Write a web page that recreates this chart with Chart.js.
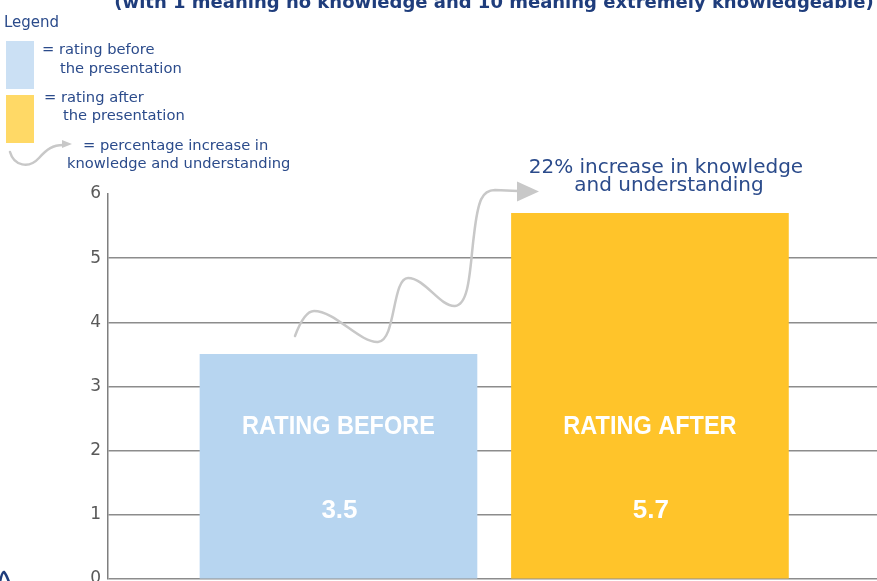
<!DOCTYPE html>
<html>
<head>
<meta charset="utf-8">
<script src="https://cdn.jsdelivr.net/npm/chart.js@4.4.1/dist/chart.umd.min.js"></script>
<style>
    html, body { margin: 0; padding: 0; background: #fff; }
    #wrap { position: relative; width: 877px; height: 581px; overflow: hidden; }
    #chart { position: absolute; left: 0; top: 0; }
    .txt {
        position: absolute;
        white-space: nowrap;
        font-family: "DejaVu Sans", sans-serif;
        font-size: 14.7px;
        line-height: 17px;
        color: #2b4b8b;
    }
    .swatch { position: absolute; left: 6px; width: 28px; height: 48px; }
    #title {
        position: absolute;
        left: 494px;
        top: -8px;
        transform: translateX(-50%);
        white-space: nowrap;
        font-family: "DejaVu Sans", sans-serif;
        font-weight: bold;
        font-size: 18px;
        line-height: 20px;
        color: #1f3d7c;
    }
</style>
</head>
<body>
<div id="wrap">
    <canvas id="chart" width="877" height="581"></canvas>

    <div id="title">(with 1 meaning no knowledge and 10 meaning extremely knowledgeable)</div>

    <!-- легенда -->
    <div class="txt" style="left:4px; top:14px; font-size:15px;">Legend</div>
    <div class="swatch" style="top:41px; background:#cbe0f4;"></div>
    <div class="txt" style="left:42px; top:40px;">= rating before</div>
    <div class="txt" style="left:60px; top:59px;">the presentation</div>
    <div class="swatch" style="top:95px; background:#ffd966;"></div>
    <div class="txt" style="left:44px; top:88px;">= rating after</div>
    <div class="txt" style="left:63px; top:106px;">the presentation</div>
    <div class="txt" style="left:83px; top:136px;">= percentage increase in</div>
    <div class="txt" style="left:67px; top:154px;">knowledge and understanding</div>
</div>

<script>
"use strict";

// Дані графіка
const categories = ['Rating before', 'Rating after'];
const ratings = [3.5, 5.7];
const barColors = ['#b7d5f0', '#ffc42a'];
const yTicks = [0, 1, 2, 3, 4, 5, 6];
const increaseNote = ['22% increase in knowledge', 'and understanding'];

const GRID = '#8c8c8c';
const ARROW = '#c8c8c8';

/**
 * Підписи всередині стовпців, хвиляста стрілка та примітка про приріст.
 */
const decorations = {
    id: 'decorations',
    afterDatasetsDraw(chart) {
        const ctx = chart.ctx;
        const bars = chart.getDatasetMeta(0).data;

        // підписи у стовпцях
        bars.forEach((bar, i) => {
            ctx.save();
            ctx.fillStyle = '#ffffff';
            ctx.textAlign = 'center';
            ctx.textBaseline = 'alphabetic';

            ctx.save();
            ctx.translate(bar.x, bar.base - 144.5);
            ctx.scale(1, 1.13);
            ctx.font = 'bold 23.5px "Liberation Sans"';
            ctx.fillText(categories[i].toUpperCase(), 0, 0);
            ctx.restore();

            ctx.font = 'bold 26px "Liberation Sans"';
            ctx.fillText(String(ratings[i]), bar.x + 1, bar.base - 60.5);
            ctx.restore();
        });

        // примітка над другим стовпцем
        const after = bars[1];
        ctx.save();
        ctx.fillStyle = '#2b4b8b';
        ctx.textAlign = 'center';
        ctx.font = '20px "DejaVu Sans"';
        ctx.fillText(increaseNote[0], after.x + 16, after.y - 40);
        ctx.fillText(increaseNote[1], after.x + 19, after.y - 22);
        ctx.restore();

        // хвиляста стрілка
        ctx.save();
        ctx.strokeStyle = ARROW;
        ctx.fillStyle = ARROW;
        ctx.lineWidth = 2.5;
        ctx.lineCap = 'round';
        ctx.beginPath();
        ctx.moveTo(295, 336);
        ctx.bezierCurveTo(301, 320, 307, 311, 314, 311);
        ctx.bezierCurveTo(335, 311, 360, 343, 378, 342);
        ctx.bezierCurveTo(396, 341, 392, 278, 408, 278);
        ctx.bezierCurveTo(425, 278, 440, 307, 455, 306);
        ctx.bezierCurveTo(470, 305, 470, 265, 474, 235);
        ctx.bezierCurveTo(478, 200, 482, 190, 495, 190);
        ctx.lineTo(518, 191);
        ctx.stroke();
        ctx.beginPath();
        ctx.moveTo(517, 181.5);
        ctx.lineTo(539, 191.5);
        ctx.lineTo(517, 201.5);
        ctx.closePath();
        ctx.fill();

        // маленька стрілка в легенді
        ctx.beginPath();
        ctx.moveTo(10, 152);
        ctx.bezierCurveTo(14, 166, 29, 169, 39, 158);
        ctx.bezierCurveTo(47, 149, 53, 145, 63, 145);
        ctx.stroke();
        ctx.beginPath();
        ctx.moveTo(62, 140);
        ctx.lineTo(72, 144);
        ctx.lineTo(62, 148);
        ctx.closePath();
        ctx.fill();
        ctx.restore();

        // куток рамки слайда
        ctx.save();
        ctx.strokeStyle = '#1f3d7c';
        ctx.lineWidth = 2.5;
        ctx.beginPath();
        ctx.moveTo(0, 582);
        ctx.quadraticCurveTo(2, 572, 4, 572);
        ctx.quadraticCurveTo(6, 574, 9, 582);
        ctx.stroke();
        ctx.restore();
    }
};

new Chart(document.getElementById('chart'), {
    type: 'bar',
    data: {
        labels: categories,
        datasets: [{
            data: ratings.map((v, i) => ({ x: i + 1, y: v })),
            backgroundColor: barColors,
            borderWidth: 0,
            barThickness: 277
        }]
    },
    options: {
        responsive: false,
        animation: false,
        layout: { padding: { top: 194, bottom: 2, left: 0, right: 0 } },
        scales: {
            x: {
                type: 'linear',
                min: 0.26,
                max: 2.729,
                offset: false,
                grid: { offset: false },
                display: false
            },
            y: {
                min: yTicks[0],
                max: yTicks[yTicks.length - 1],
                afterBuildTicks: (scale) => {
                    scale.ticks = yTicks.map(v => ({ value: v }));
                },
                afterFit: (scale) => {
                    scale.width = 108;
                    scale.paddingTop = 0;
                    scale.paddingBottom = 0;
                },
                ticks: {
                    color: '#595959',
                    font: { family: 'DejaVu Sans', size: 17 },
                    padding: 7
                },
                grid: {
                    drawTicks: false,
                    lineWidth: 1.5,
                    color: (c) => (c.tick && c.tick.value === yTicks[yTicks.length - 1]) ? 'rgba(0,0,0,0)' : GRID
                },
                border: { color: '#7f7f7f', width: 1.5 }
            }
        },
        plugins: {
            legend: { display: false },
            tooltip: { enabled: false }
        }
    },
    plugins: [decorations]
});
</script>
</body>
</html>
